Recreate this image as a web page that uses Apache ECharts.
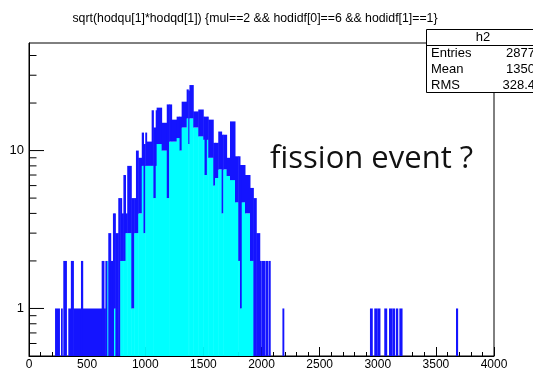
<!DOCTYPE html>
<html>
<head>
<meta charset="utf-8">
<script src="https://cdn.jsdelivr.net/npm/echarts@6/dist/echarts.min.js"></script>
<style>
html,body{margin:0;padding:0;background:#fff;overflow:hidden;}
#c{width:533px;height:371px;}
</style>
</head>
<body>
<div id="c"></div>
<script>
// ---- data ----
// each column: [xStart, xEnd, cyanTop (fill level), blueTop (line envelope)]
const lowRegion = [
  [224,262,0,1],[275,286,0,1],[295,322,0,2],[338,360,0,1],[360,382,0,2],[382,447,0,1],
  [447,462,0,2],[462,625,0,1],[625,645,0,2],[645,657,0,1],[657,674,0,2],[674,682,2,2],
  [682,703,0,3],[703,722,0,2],[722,731,0,4],[731,743,1,4],[743,768,0,3],[768,785,0,5]
];
const peakRegion = [
  [785,797,2,5],[797,812,2,4],[812,830,2,7],[830,845,3,4],[845,880,3,8],[880,905,1,5],
  [905,920,3,5],[920,940,3,10],[940,970,4,9],[970,985,8,13],[985,1000,3,11],[1000,1012,8,13],
  [1012,1055,8,11.4],[1055,1070,8,18],[1070,1090,5,14],[1090,1098,8,18],[1098,1141,11,18.7],
  [1141,1185,10,15],[1185,1205,5,19.6],[1205,1227,11.4,19.6],[1227,1270,11.4,15.7],
  [1270,1295,12,16.4],[1295,1313,10,16.4],[1313,1356,14,20.4],[1356,1370,16,24.4],
  [1370,1380,11,24],[1380,1413,16,26],[1413,1456,14,17.7],[1456,1499,12.3,18.2],
  [1499,1510,11.7,16.4],[1510,1530,7,16.4],[1530,1542,11.7,16.4],[1542,1585,9,15.7],
  [1585,1600,6,11.2],[1600,1628,6.7,11.2],[1628,1657,7.6,13.2],[1657,1671,4,12.6],
  [1671,1700,7.6,12.6],[1700,1729,6.9,9],[1729,1772,6.5,15.3],[1772,1800,4.7,9.2],
  [1800,1815,2,9.2],[1815,1830,1,8.1],[1830,1858,4.7,8.1],[1858,1901,4,7],[1901,1930,2,5.8]
];
const tailRegion = [
  [1930,1955,0,5],[1955,1985,0,3],[1985,1998,0,2],[2004,2030,0,2],[2036,2055,0,2],
  [2062,2075,0,2],[2180,2192,0,1],[2933,2953,0,1],[2970,2990,0,1],[2995,3019,0,1],
  [3056,3077,0,1],[3097,3120,0,1],[3125,3146,0,1],[3157,3172,0,1],[3186,3209,0,1],
  [3673,3687,0,1]
];
const yMajorTicks = [1, 10];
const yMinorTicks = [0.6,0.7,0.8,0.9,2,3,4,5,6,7,8,9,20,30,40];
const yLabels = [1, 10];
const titleText = 'sqrt(hodqu[1]*hodqd[1]) {mul==2 && hodidf[0]==6 && hodidf[1]==1}';
const statsName = 'h2';
const statsKeys = ['Entries', 'Mean', 'RMS'];
const statsVals = ['2877', '1350', '328.4'];
const note = 'fission event ?';

const X_MIN = 0, X_MAX = 4000, Y_MIN = 0.5, Y_MAX = 48;
const CYAN = '#00ffff', BLUE = '#1414ff';
const FONT = "'Liberation Sans', Arial, Helvetica, sans-serif";

const chart = echarts.init(document.getElementById('c'), null, {renderer: 'canvas'});

function histItem(params, api) {
  const x0 = api.value(0), x1 = api.value(1), lo = api.value(2), hi = api.value(3);
  const pb = api.coord([x0, Y_MIN]);
  const pe = api.coord([x1, Y_MIN]);
  const yb = pb[1] + 1, xa = pb[0];
  // small overlap so neighbouring columns leave no hairline seams
  const w = Math.max(pe[0] - pb[0], 0.6) + 0.5;
  const children = [];
  let ys = yb;
  if (lo > 0) {
    const yl = api.coord([x0, lo])[1];
    children.push({type: 'rect', shape: {x: xa, y: yl, width: w, height: yb - yl}, style: {fill: CYAN}});
    ys = yl;
  }
  if (hi > lo) {
    const yh = api.coord([x0, hi])[1];
    children.push({type: 'rect', shape: {x: xa, y: yh, width: w, height: ys - yh}, style: {fill: BLUE}});
  }
  return {type: 'group', children: children};
}

function tickItem(len) {
  return function (params, api) {
    const p = api.coord([X_MIN, api.value(1)]);
    return {type: 'line', shape: {x1: p[0], y1: p[1], x2: p[0] + len, y2: p[1]},
            style: {stroke: '#000', lineWidth: 1}};
  };
}

const histData = lowRegion.concat(peakRegion, tailRegion);

chart.setOption({
  animation: false,
  backgroundColor: '#fff',
  grid: {left: 29, right: 39, top: 43, bottom: 13, show: true, borderColor: '#000', borderWidth: 1, backgroundColor: 'transparent'},
  xAxis: {
    type: 'value', min: X_MIN, max: X_MAX, interval: 500,
    axisLine: {show: true, lineStyle: {color: '#000', width: 1}},
    axisTick: {show: true, inside: true, length: 9, lineStyle: {color: '#000', width: 1}},
    minorTick: {show: true, splitNumber: 5, length: 4, lineStyle: {color: '#000', width: 1}},
    splitLine: {show: false}, minorSplitLine: {show: false},
    axisLabel: {color: '#000', fontFamily: FONT, fontSize: 12, margin: 3, formatter: v => String(v)}
  },
  yAxis: {
    type: 'log', logBase: 10, min: Y_MIN, max: Y_MAX,
    axisLine: {show: true, lineStyle: {color: '#000', width: 1}},
    axisTick: {show: false},
    splitLine: {show: false},
    axisLabel: {
      color: '#000', fontFamily: FONT, fontSize: 13, margin: 5,
      formatter: function (v) {
        for (const l of yLabels) { if (Math.abs(v - l) < 1e-6 * l) return String(l); }
        return '';
      }
    }
  },
  series: [
    {type: 'custom', name: 'h2', renderItem: histItem, data: histData, clip: true,
     encode: {x: [0, 1], y: 3}, z: 2},
    {type: 'custom', renderItem: tickItem(15), data: yMajorTicks.map(v => [X_MIN, v]), encode: {x: 0, y: 1}, z: 5, silent: true},
    {type: 'custom', renderItem: tickItem(7.5), data: yMinorTicks.map(v => [X_MIN, v]), encode: {x: 0, y: 1}, z: 5, silent: true}
  ],
  graphic: [
    {type: 'text', x: 255, y: 19, style: {text: titleText, font: '12.3px ' + FONT, fill: '#000', textAlign: 'center', textVerticalAlign: 'middle'}, z: 10},
    {type: 'rect', shape: {x: 426.5, y: 29.5, width: 130, height: 63}, style: {fill: '#fff', stroke: '#000', lineWidth: 1}, z: 20},
    {type: 'line', shape: {x1: 426.5, y1: 45.5, x2: 560, y2: 45.5}, style: {stroke: '#000', lineWidth: 1}, z: 21},
    {type: 'text', x: 483, y: 37.5, style: {text: statsName, font: '13px ' + FONT, fill: '#000', textAlign: 'center', textVerticalAlign: 'middle'}, z: 22},
    {type: 'text', x: 431, y: 53.5, style: {text: statsKeys[0], font: '13px ' + FONT, fill: '#000', textAlign: 'left', textVerticalAlign: 'middle'}, z: 22},
    {type: 'text', x: 431, y: 69.5, style: {text: statsKeys[1], font: '13px ' + FONT, fill: '#000', textAlign: 'left', textVerticalAlign: 'middle'}, z: 22},
    {type: 'text', x: 431, y: 85.5, style: {text: statsKeys[2], font: '13px ' + FONT, fill: '#000', textAlign: 'left', textVerticalAlign: 'middle'}, z: 22},
    {type: 'text', x: 535, y: 53.5, style: {text: statsVals[0], font: '13px ' + FONT, fill: '#000', textAlign: 'right', textVerticalAlign: 'middle'}, z: 22},
    {type: 'text', x: 535, y: 69.5, style: {text: statsVals[1], font: '13px ' + FONT, fill: '#000', textAlign: 'right', textVerticalAlign: 'middle'}, z: 22},
    {type: 'text', x: 535, y: 85.5, style: {text: statsVals[2], font: '13px ' + FONT, fill: '#000', textAlign: 'right', textVerticalAlign: 'middle'}, z: 22},
    {type: 'text', x: 270, y: 159, style: {text: note, font: "31px 'Open Sans', 'Noto Sans', sans-serif", fill: '#111', textAlign: 'left', textVerticalAlign: 'middle'}, z: 22}
  ]
});
</script>
</body>
</html>
